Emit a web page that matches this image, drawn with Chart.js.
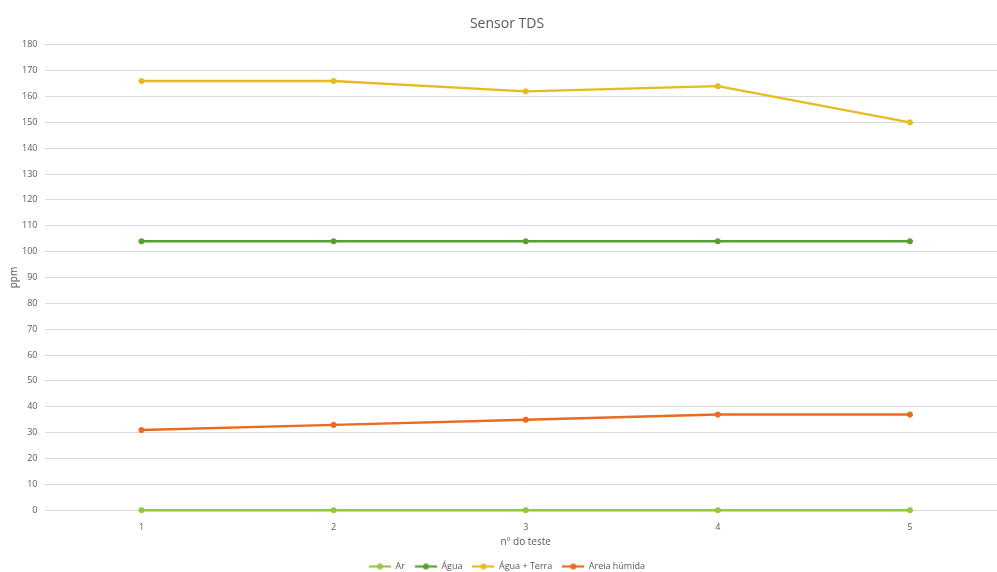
<!DOCTYPE html>
<html>
<head>
<meta charset="utf-8">
<script src="https://cdn.jsdelivr.net/npm/chart.js@4.4.0/dist/chart.umd.min.js"></script>
<style>
  html, body { margin: 0; padding: 0; background: #fff; overflow: hidden; }
  #wrap { width: 1012px; height: 581px; position: relative; }
</style>
</head>
<body>
<div id="wrap"><canvas id="tdsChart"></canvas></div>
<script>
// Sensor TDS
const testes = ['1', '2', '3', '4', '5'];
const ar = [0, 0, 0, 0, 0];
const agua = [104, 104, 104, 104, 104];
const aguaTerra = [166, 166, 162, 164, 150];
const areiaHumida = [31, 33, 35, 37, 37];

const cores = {
    ar: '#92c83e',
    agua: '#55a02e',
    aguaTerra: '#e8ba22',
    areia: '#e86b1f'
};

// little line + dot symbol for the legend
function legendSymbol(color) {
    const c = document.createElement('canvas');
    c.width = 22; c.height = 8;
    const ctx = c.getContext('2d');
    ctx.strokeStyle = color;
    ctx.lineWidth = 2.2;
    ctx.beginPath(); ctx.moveTo(0, 4); ctx.lineTo(22, 4); ctx.stroke();
    ctx.fillStyle = color;
    ctx.beginPath(); ctx.arc(11, 4, 3, 0, Math.PI * 2); ctx.fill();
    return c;
}

function serie(label, data, color) {
    return {
        label: label,
        data: data,
        borderColor: color,
        backgroundColor: color,
        borderWidth: 2.4,
        pointRadius: 2.6,
        pointBorderWidth: 1,
        pointHoverRadius: 2.6,
        tension: 0,
        fill: false,
        clip: false
    };
}

const fonte = "'Open Sans', 'DejaVu Sans', sans-serif";
const cinza = '#595959';

new Chart(document.getElementById('tdsChart'), {
    type: 'line',
    data: {
        labels: testes,
        datasets: [
            serie('Ar', ar, cores.ar),
            serie('Água', agua, cores.agua),
            serie('Água + Terra', aguaTerra, cores.aguaTerra),
            serie('Areia húmida', areiaHumida, cores.areia)
        ]
    },
    options: {
        responsive: true,
        maintainAspectRatio: false,
        animation: false,
        layout: { padding: { left: 8, right: 6, top: 0, bottom: 0 } },
        plugins: {
            title: {
                display: true,
                text: 'Sensor TDS',
                color: cinza,
                font: { family: fonte, size: 14, weight: 'normal' },
                padding: { top: 16, bottom: 12 }
            },
            legend: {
                position: 'bottom',
                labels: {
                    color: cinza,
                    font: { family: fonte, size: 9 },
                    usePointStyle: true,
                    pointStyleWidth: 22,
                    boxWidth: 22,
                    padding: 10,
                    generateLabels(chart) {
                        return chart.data.datasets.map((ds, i) => ({
                            text: ds.label,
                            fillStyle: ds.borderColor,
                            strokeStyle: ds.borderColor,
                            fontColor: cinza,
                            pointStyle: legendSymbol(ds.borderColor),
                            datasetIndex: i,
                            hidden: false
                        }));
                    }
                }
            },
            tooltip: { enabled: false }
        },
        scales: {
            x: {
                offset: true,
                grid: { display: false, drawTicks: false },
                border: { display: false },
                ticks: { color: cinza, font: { family: fonte, size: 9 }, padding: 12 },
                title: {
                    display: true,
                    text: 'nº do teste',
                    color: cinza,
                    font: { family: fonte, size: 10 },
                    padding: { top: -9, bottom: 4 }
                }
            },
            y: {
                min: 0,
                max: 180,
                ticks: { stepSize: 10, color: cinza, font: { family: fonte, size: 9 }, padding: 8 },
                grid: { color: '#d9d9d9', lineWidth: 1, drawTicks: false },
                border: { display: false },
                title: {
                    display: true,
                    text: 'ppm',
                    color: cinza,
                    font: { family: fonte, size: 10 },
                    padding: { top: 0, bottom: -6 }
                }
            }
        }
    }
});
</script>
</body>
</html>
